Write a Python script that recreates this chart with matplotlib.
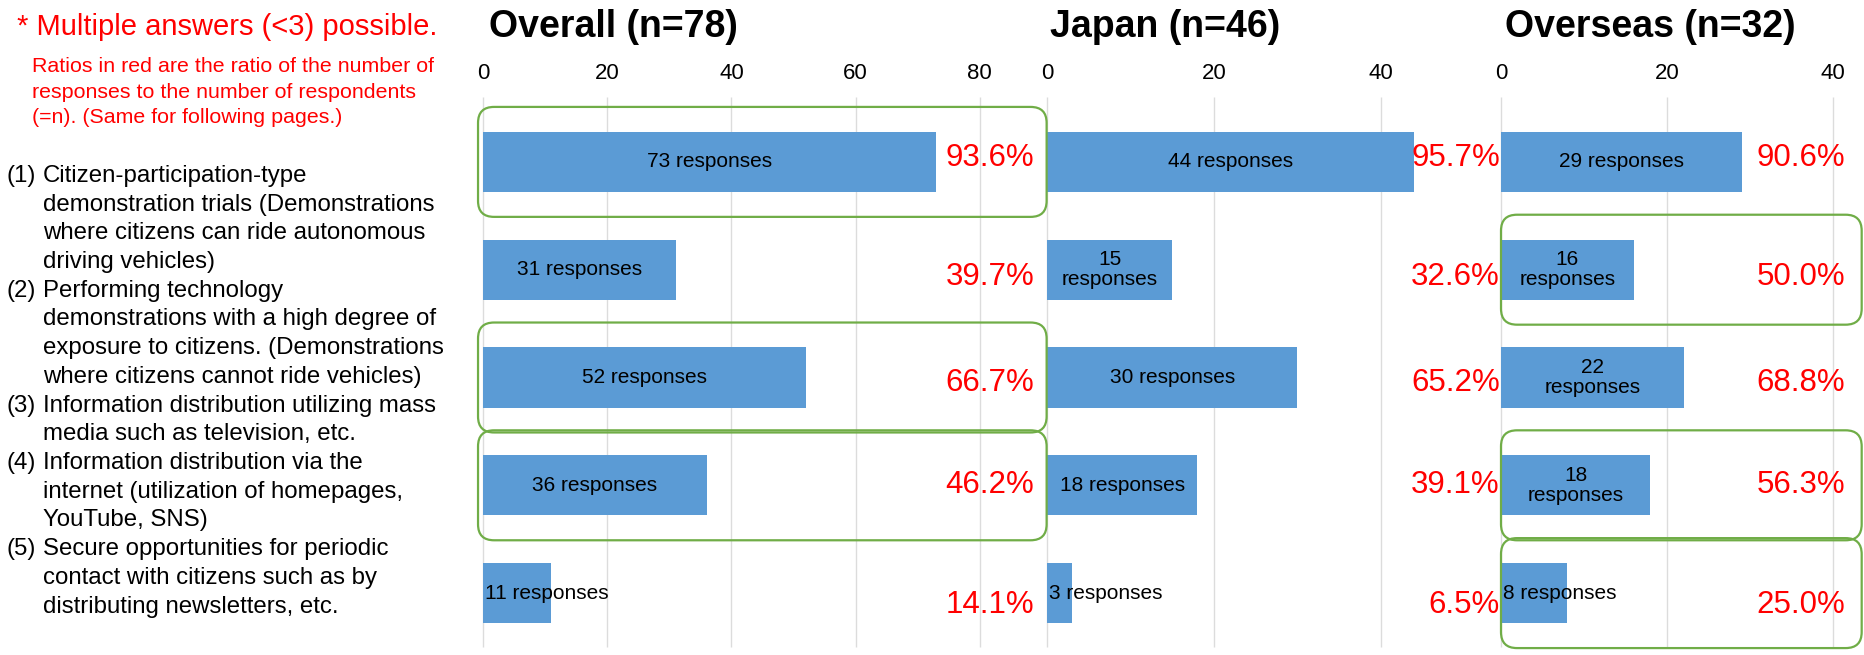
import matplotlib
matplotlib.use("Agg")
import matplotlib.pyplot as plt
from matplotlib.patches import FancyBboxPatch
from matplotlib.transforms import IdentityTransform

plt.rcParams['font.family'] = ['Liberation Sans', 'DejaVu Sans']

W, H = 1865, 655

# ---- data ----
note_title = "* Multiple answers (<3) possible."
note_lines = [
    "Ratios in red are the ratio of the number of",
    "responses to the number of respondents",
    "(=n). (Same for following pages.)",
]
item_lines = [
    ("(1)", "Citizen-participation-type"),
    ("", "demonstration trials (Demonstrations"),
    ("", "where citizens can ride autonomous"),
    ("", "driving vehicles)"),
    ("(2)", "Performing technology"),
    ("", "demonstrations with a high degree of"),
    ("", "exposure to citizens. (Demonstrations"),
    ("", "where citizens cannot ride vehicles)"),
    ("(3)", "Information distribution utilizing mass"),
    ("", "media such as television, etc."),
    ("(4)", "Information distribution via the"),
    ("", "internet (utilization of homepages,"),
    ("", "YouTube, SNS)"),
    ("(5)", "Secure opportunities for periodic"),
    ("", "contact with citizens such as by"),
    ("", "distributing newsletters, etc."),
]

panel_titles = ["Overall (n=78)", "Japan (n=46)", "Overseas (n=32)"]
panel_n = [78, 46, 32]
overall_counts = [73, 31, 52, 36, 11]
japan_counts = [44, 15, 30, 18, 3]
overseas_counts = [29, 16, 22, 18, 8]
overall_boxed = [0, 2, 3]
japan_boxed = []
overseas_boxed = [1, 3, 4]
overall_wrapped = []
japan_wrapped = [1]
overseas_wrapped = [1, 2, 3]

# ---- layout (pixels) ----
top, bottom = 108, 647
panels = [
    dict(counts=overall_counts, boxed=overall_boxed, wrapped=overall_wrapped,
         left=483, right=1046, scale=6.21, title_x=489, pct_x=0.979, box=(-0.8, None)),
    dict(counts=japan_counts, boxed=japan_boxed, wrapped=japan_wrapped,
         left=1047, right=1499, scale=8.35, title_x=1050, pct_x=1.002, box=(0, None)),
    dict(counts=overseas_counts, boxed=overseas_boxed, wrapped=overseas_wrapped,
         left=1501, right=1865, scale=8.3, title_x=1505, pct_x=0.945, box=(0, -0.4)),
]
pct_dy = [-0.04, 0.07, 0.05, 0.0, 0.11]

bar_color = '#5b9bd5'
box_color = '#70ad47'
grid_color = '#dcdcdc'


def fx(x):
    return x / W


def fy(y):
    return 1 - y / H


fig = plt.figure(figsize=(W / 100, H / 100), dpi=100)

# left notes
fig.text(fx(17), fy(35), note_title, color='#ff0000', fontsize=21, va='baseline')
for i, line in enumerate(note_lines):
    fig.text(fx(32), fy(72 + i * 25.5), line, color='#ff0000', fontsize=15.4, va='baseline')
for i, (num, line) in enumerate(item_lines):
    y = fy(182 + i * 28.7)
    if num:
        fig.text(fx(7), y, num, fontsize=17.3, va='baseline')
    fig.text(fx(43), y, line, fontsize=17.3, va='baseline')

for p, title, n in zip(panels, panel_titles, panel_n):
    xmax = (p['right'] - p['left']) / p['scale']
    ax = fig.add_axes([fx(p['left']), fy(bottom), (p['right'] - p['left']) / W,
                       (bottom - top) / H])
    rows = list(range(len(p['counts'])))
    ax.barh(rows, p['counts'], height=0.56, color=bar_color, zorder=2)
    ax.set_xlim(0, xmax)
    ax.set_ylim(len(rows) - 0.5, -0.5)
    ticks = list(range(0, int(xmax) + 1, 20))
    ax.xaxis.tick_top()
    ax.set_xticks(ticks)
    ax.tick_params(axis='x', length=0, pad=17, labelsize=16)
    ax.set_yticks([])
    for s in ax.spines.values():
        s.set_visible(False)
    ax.vlines(ticks, -0.6, len(rows) - 0.5, color=grid_color, lw=1.0, zorder=0,
              clip_on=False)

    for i, v in enumerate(p['counts']):
        wrap = i in p['wrapped']
        lab = f"{v}\nresponses" if wrap else f"{v} responses"
        if v / xmax < 0.2:
            ax.text(0.25, i, lab, ha='left', va='center', fontsize=15, zorder=3)
        else:
            ax.text(v / 2, i, lab, ha='center', va='center', fontsize=15,
                    linespacing=1.1, zorder=3)
        pct = v / n * 100 + 1e-9
        ax.text(p['pct_x'], i + pct_dy[i], f"{pct:.1f}%", ha='right', va='center',
                color='#ff0000', fontsize=22.5, transform=ax.get_yaxis_transform(),
                clip_on=False, zorder=3)

    fig.text(fx(p['title_x']), fy(27), title, fontsize=27, fontweight='bold', va='center')

    # rounded highlight boxes
    bx0 = p['box'][0]
    bx1 = xmax + (p['box'][1] or 0.1)
    for r in p['boxed']:
        (x0, y0) = ax.transData.transform((bx0, r + 0.51))
        (x1, y1) = ax.transData.transform((bx1, r - 0.51))
        fig.add_artist(FancyBboxPatch((x0, y0), x1 - x0, y1 - y0,
                                      boxstyle="round,pad=0,rounding_size=16",
                                      transform=IdentityTransform(), fill=False,
                                      ec=box_color, lw=1.6, zorder=5))

fig.savefig("out.png", dpi=100)
